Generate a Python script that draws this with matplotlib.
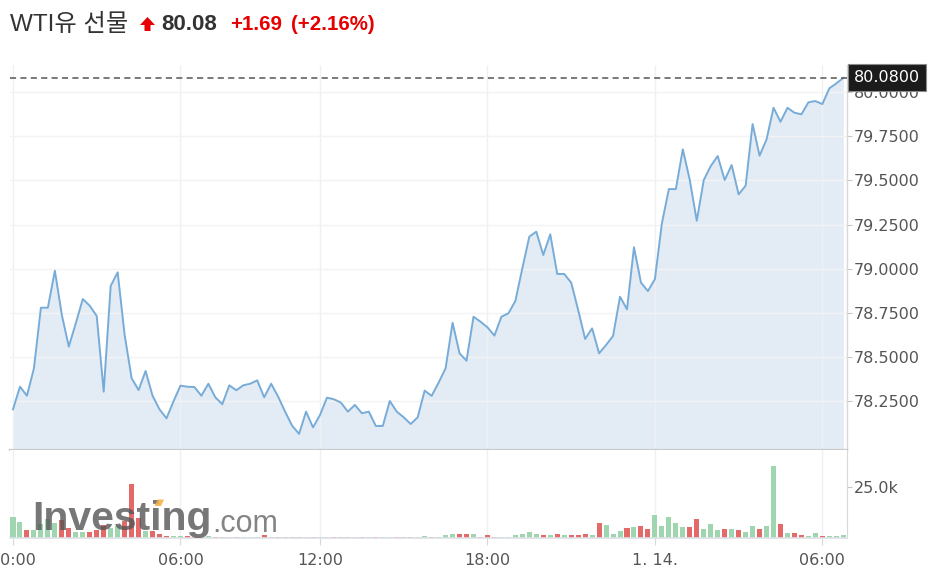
import matplotlib
matplotlib.use('Agg')
import matplotlib.pyplot as plt
import numpy as np
from matplotlib.patches import Polygon
from matplotlib.ticker import FuncFormatter
import matplotlib.transforms as mtransforms

# ---------------- data ----------------
price = [78.205, 78.333, 78.282, 78.437, 78.780, 78.780, 78.989, 78.739, 78.560, 78.692,
         78.829, 78.791, 78.733, 78.305, 78.903, 78.980, 78.626, 78.381, 78.314, 78.422,
         78.282, 78.205, 78.154, 78.250, 78.339, 78.333, 78.331, 78.282, 78.350, 78.273,
         78.234, 78.341, 78.313, 78.341, 78.350, 78.369, 78.273, 78.350, 78.277, 78.192,
         78.113, 78.066, 78.192, 78.103, 78.173, 78.271, 78.262, 78.243, 78.192, 78.230,
         78.183, 78.192, 78.111, 78.111, 78.252, 78.192, 78.160, 78.122, 78.160, 78.311,
         78.281, 78.356, 78.437, 78.695, 78.522, 78.480, 78.729, 78.701, 78.669, 78.622,
         78.729, 78.748, 78.818, 79.003, 79.182, 79.210, 79.078, 79.195, 78.971, 78.971,
         78.922, 78.767, 78.603, 78.663, 78.522, 78.569, 78.620, 78.842, 78.771, 79.122,
         78.922, 78.874, 78.942, 79.257, 79.451, 79.451, 79.676, 79.502, 79.272, 79.502,
         79.581, 79.638, 79.502, 79.587, 79.421, 79.470, 79.819, 79.640, 79.732, 79.911,
         79.832, 79.911, 79.883, 79.874, 79.942, 79.949, 79.932, 80.021, 80.049, 80.080]

volume_k = [9.9, 7.7, 3.8, 3.8, 6.6, 9.1, 6.9, 8.6, 4.5, 2.8,
            2.6, 2.5, 3.6, 6.3, 4.9, 5.8, 8.2, 26.3, 9.4, 3.3,
            3.3, 1.6, 0.8, 0.8, 0.5, 0.6, 0.3, 0.4, 0.5, 0.3,
            0.2, 0.2, 0.2, 0.2, 0.2, 0.2, 1.0, 0.4, 0.4, 0.3,
            0.4, 0.2, 0.4, 0.3, 0.2, 0.3, 0.2, 0.2, 0.2, 0.2,
            0.2, 0.2, 0.2, 0.4, 0.4, 0.3, 0.4, 0.2, 0.4, 0.5,
            0.3, 0.3, 1.0, 1.8, 1.8, 1.8, 1.8, 0.3, 1.1, 0.3,
            0.3, 0.3, 1.0, 1.8, 2.5, 1.8, 1.0, 1.0, 1.8, 1.0,
            1.0, 1.0, 1.8, 1.0, 7.1, 6.3, 1.8, 3.3, 4.6, 5.4,
            5.6, 4.3, 11.0, 5.8, 10.2, 7.2, 5.1, 5.1, 8.9, 4.3,
            6.6, 3.6, 4.3, 4.3, 3.6, 2.8, 5.8, 4.3, 5.8, 35.4,
            6.6, 2.1, 2.1, 1.3, 0.7, 2.1, 0.7, 0.7, 0.7, 1.3]

tick_idx = [0, 24, 44, 68, 92, 116]
tick_labels = ['00:00', '06:00', '12:00', '18:00', '1. 14.', '06:00']
price_ticks = [78.25, 78.5, 78.75, 79.0, 79.25, 79.5, 79.75, 80.0]
volume_ticks = [25.0]
last_price = 80.08

title_name = 'WTI유 선물'
title_price = '80.08'
title_change = '+1.69'
title_pct = '(+2.16%)'

# ---------------- figure ----------------
W, H = 934, 579
fig = plt.figure(figsize=(W / 100, H / 100), dpi=100)


def fx(px):
    return px / W


def fy(py):
    return 1 - py / H


ax = fig.add_axes([fx(10), fy(450), (847 - 10) / W, (450 - 65) / H])
axv = fig.add_axes([fx(10), fy(537.5), (847 - 10) / W, 87.5 / H])

x = np.arange(len(price))
XLIM = (-0.43, 119.53)

# price panel
ax.fill_between(x, price, 77.0, color='#e3ecf5', lw=0, zorder=0.3)
ax.plot(x, price, color='#78acd8', lw=1.4, zorder=2)
ax.axhline(last_price, color='#555555', lw=1.1, ls=(0, (4.0, 2.8)), zorder=3)
ax.set_xlim(*XLIM)
ax.set_ylim(77.975, 80.153)
ax.set_axisbelow(True)
ax.set_xticks(tick_idx)
ax.tick_params(axis='x', length=0, labelbottom=False)
ax.set_yticks(price_ticks)
ax.yaxis.tick_right()
ax.yaxis.set_major_formatter(FuncFormatter(lambda v, p: f'{v:.4f}'))
ax.tick_params(axis='y', right=True, left=False, length=3.5, width=0.8,
               color='#c8c8c8', labelcolor='#555555', labelsize=11.5, pad=1.2)
ax.grid(axis='y', color='#f3f3f3', lw=1)
ax.grid(axis='x', color='#eef0f3', lw=1)
for s in ['top', 'left']:
    ax.spines[s].set_visible(False)
ax.spines['right'].set_color('#d8d8d8')
ax.spines['right'].set_linewidth(1)
ax.spines['bottom'].set_color('#c9c9c9')
ax.spines['bottom'].set_linewidth(1.6)

# last price box
trans = mtransforms.blended_transform_factory(ax.transAxes, ax.transData)
ax.annotate('80.0800', xy=(1.0, last_price), xycoords=trans,
            xytext=(5.0, 0), textcoords='offset points', ha='left', va='center',
            color='white', fontsize=11.5, annotation_clip=False, zorder=10,
            bbox=dict(boxstyle='square,pad=0.38', fc='#1b1b1b', ec='#8a8a8a', lw=0.8))

# volume panel
colors = ['#9fd6b0' if i == 0 or price[i] >= price[i - 1] else '#e46a6a'
          for i in range(len(price))]
axv.bar(x, volume_k, width=0.72, color=colors, lw=0, zorder=2)
axv.set_xlim(*XLIM)
axv.set_ylim(0, 43.06)
axv.set_axisbelow(True)
axv.set_yticks(volume_ticks)
axv.yaxis.tick_right()
axv.yaxis.set_major_formatter(FuncFormatter(lambda v, p: f'{v:.1f}k'))
axv.tick_params(axis='y', right=True, left=False, length=3.5, width=0.8,
                color='#c8c8c8', labelcolor='#555555', labelsize=11.5, pad=1.2)
axv.set_xticks(tick_idx)
axv.set_xticklabels(tick_labels)
axv.tick_params(axis='x', length=5, width=0.8, color='#d8d8d8',
                labelcolor='#555555', labelsize=11.5, pad=6)
axv.grid(axis='x', color='#eef0f3', lw=1)
for s in ['top', 'left']:
    axv.spines[s].set_visible(False)
axv.spines['right'].set_color('#d8d8d8')
axv.spines['bottom'].set_color('#dde1e8')
axv.spines['bottom'].set_linewidth(1.2)

# ---------------- header ----------------
fig.text(fx(10), fy(31), title_name, fontsize=17.5, color='#333333',
         family=['Liberation Sans', 'Noto Sans CJK KR'], va='baseline', ha='left')
arrow_px = [(140, 25), (147.5, 17), (155, 25), (150.5, 25), (150.5, 31),
            (144.5, 31), (144.5, 25)]
fig.add_artist(Polygon([(fx(a), fy(b)) for a, b in arrow_px], closed=True,
                       transform=fig.transFigure, fc='#e60000', ec='none'))
fig.text(fx(161), fy(30.5), title_price, fontsize=16, color='#333333',
         family='Liberation Sans', weight='bold', va='baseline', ha='left')
fig.text(fx(230), fy(30.5), title_change, fontsize=14.8, color='#e60000',
         family='Liberation Sans', weight='bold', va='baseline', ha='left')
fig.text(fx(291), fy(30.5), title_pct, fontsize=14.8, color='#e60000',
         family='Liberation Sans', weight='bold', va='baseline', ha='left')

# ---------------- watermark ----------------
fig.text(fx(32), fy(530.5), 'Investing', fontsize=29.5, color='#555555', alpha=0.8,
         family='Liberation Sans', weight='bold', va='baseline', ha='left', zorder=5)
fig.text(fx(212), fy(531.5), '.com', fontsize=22, color='#666666', alpha=0.8,
         family='Liberation Sans', va='baseline', ha='left', zorder=5)
mark_px = [(154.5, 506), (157.5, 499.5), (164, 499.5), (161, 506)]
fig.add_artist(Polygon([(fx(a), fy(b)) for a, b in mark_px], closed=True,
                       transform=fig.transFigure, fc='#f5b03c', ec='none', alpha=0.85,
                       zorder=6))

fig.savefig('out.png', dpi=100)
